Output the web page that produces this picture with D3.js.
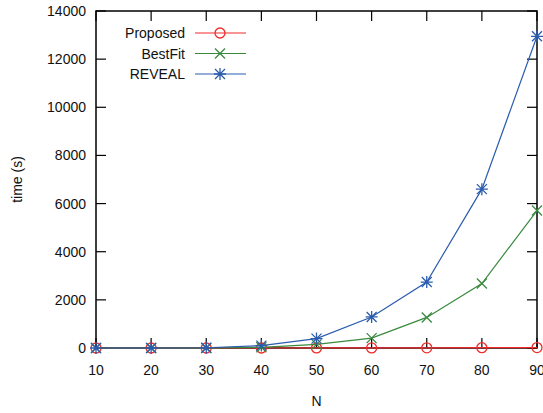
<!DOCTYPE html>
<html>
<head>
<meta charset="utf-8">
<script src="https://cdn.jsdelivr.net/npm/d3@7"></script>
<style>
body { margin: 0; background: #fff; }
svg { font-family: "Liberation Sans", Arial, sans-serif; }
</style>
</head>
<body>
<svg id="chart" width="543" height="413"></svg>
<script>
var nValues = [10, 20, 30, 40, 50, 60, 70, 80, 90];
var proposed = [0, 0, 0, 0, 2, 4, 8, 12, 18];
var bestFit = [0, 0, 0, 30, 150, 410, 1270, 2680, 5710];
var reveal = [0, 0, 10, 100, 390, 1290, 2740, 6600, 12950];
var yTicks = [0, 2000, 4000, 6000, 8000, 10000, 12000, 14000];

var series = [
	{name: 'Proposed', values: proposed, color: '#f22a2a', marker: 'circle'},
	{name: 'BestFit', values: bestFit, color: '#3a8a3e', marker: 'cross'},
	{name: 'REVEAL', values: reveal, color: '#2b5cae', marker: 'star'}
];

var svg = d3.select('#chart');
var margin = {left: 96, right: 6, top: 11, bottom: 65};
var width = 543, height = 413;

var xScale = d3.scaleLinear().domain([10, 90]).range([margin.left, width - margin.right]);
var yScale = d3.scaleLinear().domain([0, 14000]).range([height - margin.bottom, margin.top]);

var x0 = xScale.range()[0], x1 = xScale.range()[1];
var y0 = yScale.range()[0], y1 = yScale.range()[1];
var tickLen = 10;

// gnuplot style inward ticks on all sides
var ticks = svg.append('g').attr('stroke', '#000').attr('stroke-width', 1.2);
nValues.forEach(function (n) {
	ticks.append('line').attr('x1', xScale(n)).attr('x2', xScale(n)).attr('y1', y0).attr('y2', y0 - tickLen);
	ticks.append('line').attr('x1', xScale(n)).attr('x2', xScale(n)).attr('y1', y1).attr('y2', y1 + tickLen);
});
yTicks.forEach(function (t) {
	ticks.append('line').attr('x1', x0).attr('x2', x0 + tickLen).attr('y1', yScale(t)).attr('y2', yScale(t));
	ticks.append('line').attr('x1', x1).attr('x2', x1 - tickLen).attr('y1', yScale(t)).attr('y2', yScale(t));
});

svg.append('rect')
	.attr('x', x0).attr('y', y1)
	.attr('width', x1 - x0).attr('height', y0 - y1)
	.attr('fill', 'none').attr('stroke', '#000').attr('stroke-width', 1.5);

svg.append('g').selectAll('text').data(nValues).enter().append('text')
	.attr('x', function (d) { return xScale(d); })
	.attr('y', y0 + 27)
	.attr('text-anchor', 'middle')
	.attr('font-size', 14)
	.attr('fill', '#111')
	.text(function (d) { return d; });

svg.append('g').selectAll('text').data(yTicks).enter().append('text')
	.attr('x', x0 - 10)
	.attr('y', function (d) { return yScale(d) + 5; })
	.attr('text-anchor', 'end')
	.attr('font-size', 14)
	.attr('fill', '#111')
	.text(function (d) { return d; });

svg.append('text')
	.attr('x', (x0 + x1) / 2).attr('y', 406)
	.attr('text-anchor', 'middle').attr('font-size', 14).attr('fill', '#111')
	.text('N');

svg.append('text')
	.attr('transform', 'translate(22,' + ((y0 + y1) / 2) + ') rotate(-90)')
	.attr('text-anchor', 'middle').attr('font-size', 14).attr('fill', '#111')
	.text('time (s)');

function drawMarker(g, type, x, y, color) {
	var r = 5;
	if (type === 'circle') {
		g.append('circle').attr('cx', x).attr('cy', y).attr('r', r)
			.attr('fill', 'none').attr('stroke', color).attr('stroke-width', 1.3);
	} else {
		var p = g.append('path').attr('stroke', color).attr('stroke-width', 1.3).attr('fill', 'none');
		var d = 'M' + (x - r) + ',' + (y - r) + 'L' + (x + r) + ',' + (y + r) +
			'M' + (x - r) + ',' + (y + r) + 'L' + (x + r) + ',' + (y - r);
		if (type === 'star') {
			d += 'M' + (x - r - 1) + ',' + y + 'L' + (x + r + 1) + ',' + y +
				'M' + x + ',' + (y - r - 1) + 'L' + x + ',' + (y + r + 1);
		}
		p.attr('d', d);
	}
}

var line = d3.line()
	.x(function (d, i) { return xScale(nValues[i]); })
	.y(function (d) { return yScale(d); });

series.forEach(function (s) {
	var g = svg.append('g');
	g.append('path').datum(s.values)
		.attr('d', line)
		.attr('fill', 'none')
		.attr('stroke', s.color)
		.attr('stroke-width', 1.2);
	s.values.forEach(function (v, i) {
		drawMarker(g, s.marker, xScale(nValues[i]), yScale(v), s.color);
	});
});

// legend
var legend = svg.append('g');
series.forEach(function (s, i) {
	var ly = 33 + i * 20.5;
	legend.append('text')
		.attr('x', 185).attr('y', ly + 5)
		.attr('text-anchor', 'end').attr('font-size', 14).attr('fill', '#111')
		.text(s.name);
	legend.append('line')
		.attr('x1', 195).attr('x2', 246).attr('y1', ly).attr('y2', ly)
		.attr('stroke', s.color).attr('stroke-width', 1.2);
	drawMarker(legend, s.marker, 220, ly, s.color);
});
</script>
</body>
</html>
